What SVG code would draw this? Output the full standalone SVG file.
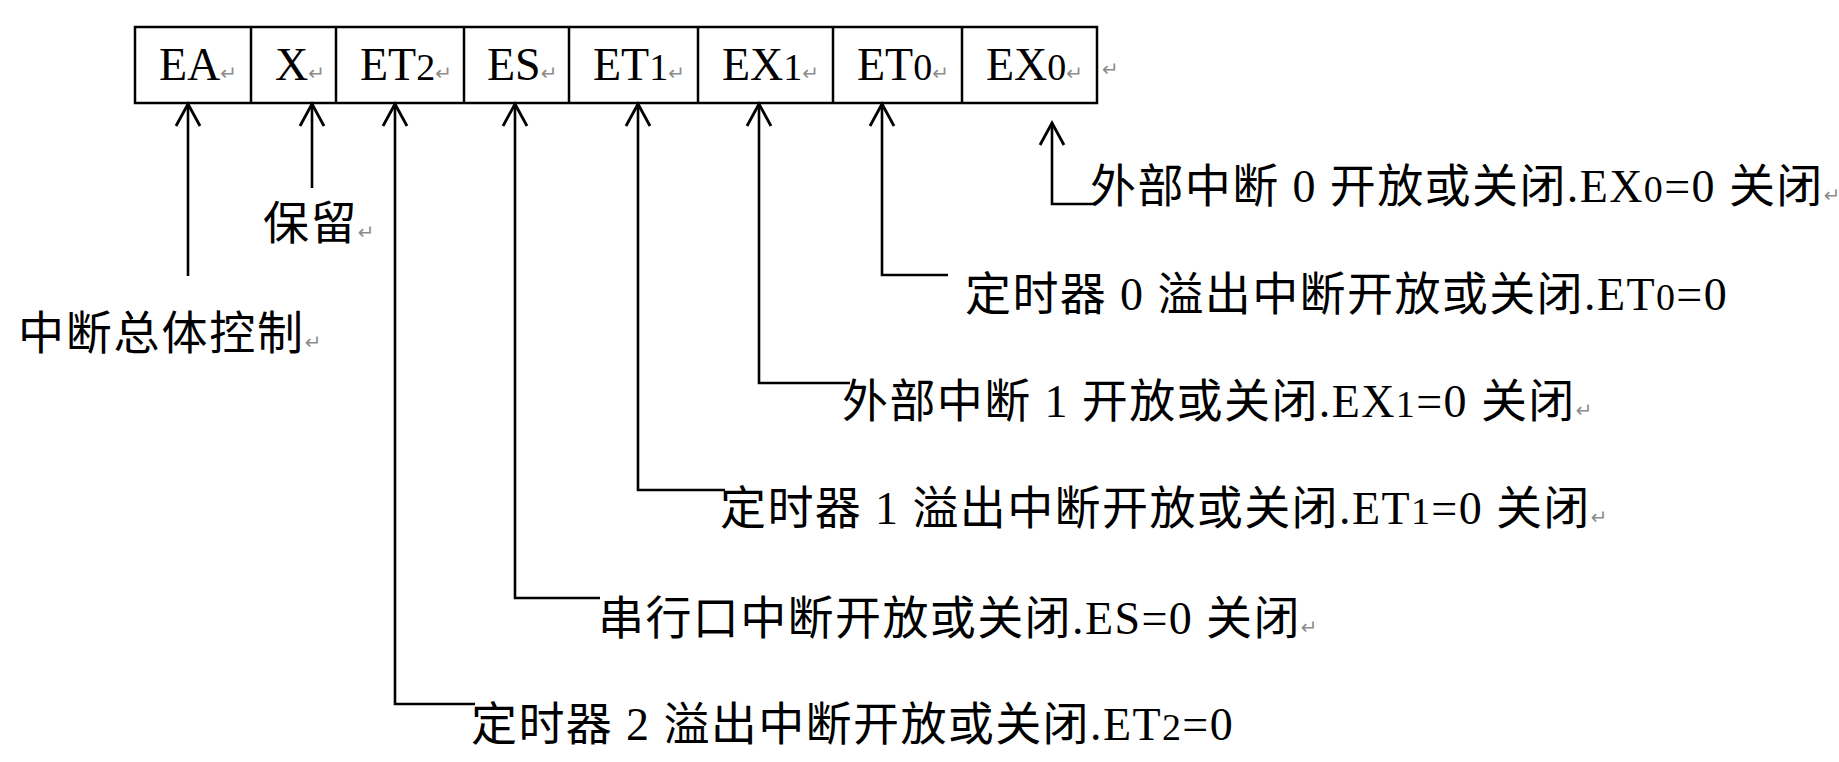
<svg xmlns="http://www.w3.org/2000/svg" width="1839" height="762" viewBox="0 0 1839 762">
<style>
.bg{fill:#fff}
.box{fill:none;stroke:#000;stroke-width:2.5}
.cell{font-family:"Liberation Serif","Noto Sans CJK SC",serif;font-size:46px;fill:#000}
.lbl{font-family:"Liberation Serif","Noto Sans CJK SC",serif;font-size:46px;fill:#000;letter-spacing:1.4px}
.sm{font-size:38px}
.rt{font-family:"DejaVu Sans",sans-serif;font-size:20px;fill:#8c8c8c;letter-spacing:0}
.conn{fill:none;stroke:#000;stroke-width:2.6}
</style>
<defs>
<marker id="arr" markerUnits="userSpaceOnUse" markerWidth="30" markerHeight="30" viewBox="-24 -15 28 30" refX="0" refY="0" orient="auto">
<path d="M-22,-12 L0,0 L-22,12" fill="none" stroke="#000" stroke-width="2.8"/>
</marker>
</defs>
<rect class="bg" x="0" y="0" width="1839" height="762"/>
<g id="register">
<rect class="box" x="135" y="27" width="962" height="76"/>
<path class="box" d="M251,27V103M336,27V103M464,27V103M569,27V103M698,27V103M833,27V103M962,27V103"/>
<text class="cell" x="159" y="80">EA<tspan class="rt">↵</tspan></text>
<text class="cell" x="275" y="80">X<tspan class="rt">↵</tspan></text>
<text class="cell" x="360" y="80">ET<tspan class="sm">2</tspan><tspan class="rt">↵</tspan></text>
<text class="cell" x="487" y="80">ES<tspan class="rt">↵</tspan></text>
<text class="cell" x="593" y="80">ET<tspan class="sm">1</tspan><tspan class="rt">↵</tspan></text>
<text class="cell" x="722" y="80">EX<tspan class="sm">1</tspan><tspan class="rt">↵</tspan></text>
<text class="cell" x="857" y="80">ET<tspan class="sm">0</tspan><tspan class="rt">↵</tspan></text>
<text class="cell" x="986" y="80">EX<tspan class="sm">0</tspan><tspan class="rt">↵</tspan></text>
<text class="rt" x="1102" y="76">↵</text>
</g>
<g id="connectors">
<path class="conn" d="M188,276V104" marker-end="url(#arr)"/>
<path class="conn" d="M312,188V104" marker-end="url(#arr)"/>
<path class="conn" d="M475,704H395V104" marker-end="url(#arr)"/>
<path class="conn" d="M600,598H515V104" marker-end="url(#arr)"/>
<path class="conn" d="M725,490H638V104" marker-end="url(#arr)"/>
<path class="conn" d="M850,383H759V104" marker-end="url(#arr)"/>
<path class="conn" d="M948,275H882V104" marker-end="url(#arr)"/>
<path class="conn" d="M1095,204H1052V123" marker-end="url(#arr)"/>
</g>
<g id="label-ea"><text class="lbl" x="18" y="349" style="letter-spacing:1.8px">中断总体控制<tspan class="rt">↵</tspan></text></g>
<g id="label-x"><text class="lbl" x="263" y="239">保留<tspan class="rt">↵</tspan></text></g>
<g id="label-et2"><text class="lbl" x="471" y="740">定时器 2 溢出中断开放或关闭.ET<tspan class="sm">2</tspan>=0</text></g>
<g id="label-es"><text class="lbl" x="598" y="634">串行口中断开放或关闭.ES=0 关闭<tspan class="rt">↵</tspan></text></g>
<g id="label-et1"><text class="lbl" x="720" y="524">定时器 1 溢出中断开放或关闭.ET<tspan class="sm">1</tspan>=0 关闭<tspan class="rt">↵</tspan></text></g>
<g id="label-ex1"><text class="lbl" x="842" y="417">外部中断 1 开放或关闭.EX<tspan class="sm">1</tspan>=0 关闭<tspan class="rt">↵</tspan></text></g>
<g id="label-et0"><text class="lbl" x="965" y="310">定时器 0 溢出中断开放或关闭.ET<tspan class="sm">0</tspan>=0</text></g>
<g id="label-ex0"><text class="lbl" x="1090" y="202">外部中断 0 开放或关闭.EX<tspan class="sm">0</tspan>=0 关闭<tspan class="rt">↵</tspan></text></g>
</svg>
